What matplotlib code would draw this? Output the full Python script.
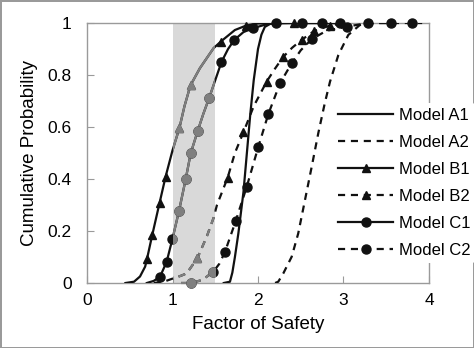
import matplotlib
matplotlib.use("Agg")
import matplotlib.pyplot as plt
from matplotlib.lines import Line2D
from matplotlib.patches import Rectangle

plt.rcParams['font.family'] = ['Liberation Sans', 'DejaVu Sans']

# ---- data ----
a1_x = [1.60, 1.672, 1.70, 1.73, 1.77, 1.83, 1.87, 1.91, 1.95, 2.00, 2.04, 2.08, 2.15, 2.30, 3.00]
a1_y = [0.0, 0.005, 0.04, 0.10, 0.19, 0.35, 0.50, 0.65, 0.78, 0.90, 0.955, 0.985, 0.998, 1.0, 1.0]

a2_x = [2.20, 2.237, 2.296, 2.394, 2.47, 2.55, 2.628, 2.705, 2.78, 2.842, 2.94, 3.056, 3.19, 3.35, 3.60]
a2_y = [0.0, 0.005, 0.037, 0.101, 0.19, 0.32, 0.447, 0.576, 0.69, 0.774, 0.877, 0.954, 0.992, 1.0, 1.0]

b1_x = [0.45, 0.55, 0.62, 0.68, 0.70, 0.76, 0.85, 0.92, 1.00, 1.08, 1.14, 1.21, 1.32, 1.48, 1.57, 1.73, 1.86, 2.00, 2.40, 3.00]
b1_y = [0.0, 0.005, 0.025, 0.063, 0.09, 0.18, 0.31, 0.41, 0.51, 0.595, 0.68, 0.76, 0.826, 0.903, 0.93, 0.973, 0.99, 0.998, 1.0, 1.0]
b1_mx = [0.698, 0.764, 0.854, 0.920, 1.076, 1.213, 1.567, 1.856, 2.42]
b1_my = [0.091, 0.183, 0.307, 0.409, 0.595, 0.762, 0.928, 0.99, 1.0]

b2_x = [0.78, 0.90, 1.01, 1.10, 1.166, 1.29, 1.40, 1.48, 1.52, 1.645, 1.73, 1.83, 1.95, 2.10, 2.20, 2.296, 2.40, 2.51, 2.66, 2.84, 3.00]
b2_y = [0.0, 0.005, 0.018, 0.028, 0.037, 0.095, 0.178, 0.25, 0.30, 0.405, 0.50, 0.58, 0.68, 0.774, 0.825, 0.87, 0.905, 0.935, 0.97, 0.99, 1.0]
b2_mx = [1.29, 1.645, 1.83, 2.10, 2.296, 2.51, 2.66, 2.84]
b2_my = [0.095, 0.405, 0.58, 0.774, 0.87, 0.935, 0.97, 0.99]

c1_x = [0.70, 0.78, 0.854, 0.932, 0.998, 1.076, 1.154, 1.213, 1.295, 1.36, 1.43, 1.50, 1.573, 1.65, 1.723, 1.83, 1.94, 2.10, 2.21, 2.50, 3.00]
c1_y = [0.0, 0.008, 0.024, 0.082, 0.168, 0.277, 0.399, 0.499, 0.585, 0.65, 0.713, 0.78, 0.85, 0.90, 0.935, 0.965, 0.98, 0.995, 1.0, 1.0, 1.0]
c1_mx = [0.854, 0.932, 0.998, 1.076, 1.154, 1.213, 1.295, 1.43, 1.573, 1.723, 1.94, 2.21, 2.52, 2.745, 2.96]
c1_my = [0.024, 0.082, 0.168, 0.277, 0.399, 0.499, 0.585, 0.713, 0.85, 0.935, 0.98, 1.0, 1.0, 1.0, 1.0]

c2_x = [1.10, 1.22, 1.35, 1.477, 1.55, 1.614, 1.739, 1.868, 2.004, 2.12, 2.257, 2.394, 2.50, 2.628, 2.80, 3.037, 3.29, 3.55, 3.80, 3.92]
c2_y = [0.0, 0.0, 0.012, 0.043, 0.075, 0.12, 0.238, 0.37, 0.524, 0.649, 0.768, 0.845, 0.895, 0.938, 0.97, 0.986, 1.0, 1.0, 1.0, 1.0]
c2_mx = [1.22, 1.477, 1.614, 1.739, 1.868, 2.004, 2.12, 2.257, 2.394, 2.628, 3.037, 3.29, 3.55, 3.80]
c2_my = [0.0, 0.043, 0.12, 0.238, 0.37, 0.524, 0.649, 0.768, 0.845, 0.938, 0.986, 1.0, 1.0, 1.0]

labels = ['Model A1', 'Model A2', 'Model B1', 'Model B2', 'Model C1', 'Model C2']
shade_range = (1.0, 1.5)
x_ticks = [0, 1, 2, 3, 4]
y_ticks = [0, 0.2, 0.4, 0.6, 0.8, 1]
y_tick_labels = ['0', '0.2', '0.4', '0.6', '0.8', '1']

# ---- figure ----
fig = plt.figure(figsize=(4.74, 3.48), dpi=100)
fig.patch.set_edgecolor('#9a9a9a')
fig.patch.set_linewidth(2.0)
ax = fig.add_axes([87 / 474, 1 - 283 / 348, (429 - 87) / 474, (283 - 23) / 348])

ax.axvspan(shade_range[0], shade_range[1], color='#d9d9d9', lw=0, zorder=0)

BLACK = '#111111'
GRAY = '#7f7f7f'
LW = 1.6
DASH = (3.2, 2.6)

series = [
    (a1_x, a1_y, None, None, '-', None),
    (a2_x, a2_y, None, None, '--', None),
    (b1_x, b1_y, b1_mx, b1_my, '-', '^'),
    (b2_x, b2_y, b2_mx, b2_my, '--', '^'),
    (c1_x, c1_y, c1_mx, c1_my, '-', 'o'),
    (c2_x, c2_y, c2_mx, c2_my, '--', 'o'),
]

clip_rect = Rectangle((shade_range[0], -0.1), shade_range[1] - shade_range[0], 1.2,
                      transform=ax.transData)

for xs, ys, mx, my, ls, mk in series:
    for color, clip in ((BLACK, False), (GRAY, True)):
        ln, = ax.plot(xs, ys, color=color, lw=LW, linestyle=ls, zorder=3)
        if ls == '--':
            ln.set_dashes(DASH)
        if clip:
            ln.set_clip_path(clip_rect)
        if mk is not None:
            ms = 6.5 if mk == 'o' else 6
            pts, = ax.plot(mx, my, linestyle='none', marker=mk, ms=ms, color=color,
                           mec=color, zorder=4, clip_on=False)
            if clip:
                pts.set_clip_on(True)
                pts.set_clip_path(clip_rect)

ax.set_xlim(0, 4)
ax.set_ylim(0, 1)
ax.set_xticks(x_ticks)
ax.set_yticks(y_ticks)
ax.set_yticklabels(y_tick_labels)
for s in ax.spines.values():
    s.set_color('#9a9a9a')
    s.set_linewidth(1.0)
ax.tick_params(axis='both', direction='in', length=5, color='#9a9a9a', labelsize=12.5)
ax.tick_params(axis='y', pad=11)
ax.tick_params(axis='x', pad=7)
ax.set_xlabel('Factor of Safety', fontsize=13.5, labelpad=6)
ax.set_ylabel('Cumulative Probability', fontsize=13.5, labelpad=7)

handles = []
for (xs, ys, mx, my, ls, mk), lab in zip(series, labels):
    h = Line2D([], [], color=BLACK, lw=LW, linestyle=ls, marker=mk,
               ms=(6.5 if mk == 'o' else 6), label=lab)
    if ls == '--':
        h.set_dashes(DASH)
    handles.append(h)

leg = ax.legend(handles=handles, loc='center left',
                bbox_to_anchor=(333 / 474, 1 - 183 / 348), bbox_transform=fig.transFigure,
                frameon=True, fontsize=12, handlelength=3.3, handletextpad=0.35,
                labelspacing=0.72, borderpad=0.3, borderaxespad=0)
leg.get_frame().set_facecolor('white')
leg.get_frame().set_edgecolor('none')
leg.get_frame().set_alpha(1)
leg.set_zorder(10)

fig.savefig('out.png', dpi=100, edgecolor=fig.get_edgecolor())
